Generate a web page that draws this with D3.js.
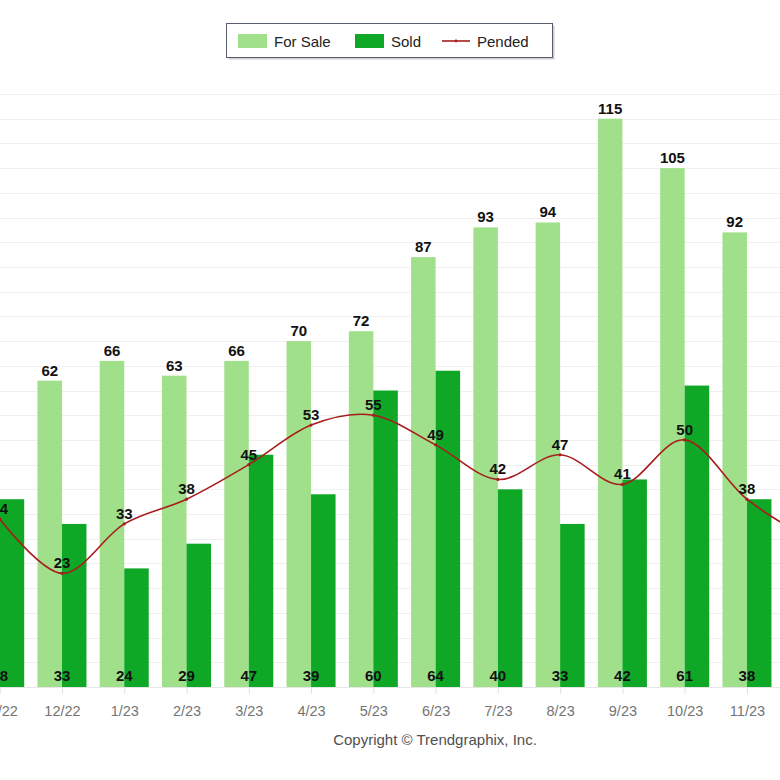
<!DOCTYPE html>
<html>
<head>
<meta charset="utf-8">
<script src="https://cdn.jsdelivr.net/npm/d3@7"></script>
<style>
  html, body { margin: 0; padding: 0; background: #fff; }
  svg { display: block; }
</style>
</head>
<body>
<svg id="chart" width="780" height="780"></svg>
<script>
// ---- data (first/last months partly off-canvas) ----
const categories = ["11/22","12/22","1/23","2/23","3/23","4/23","5/23","6/23","7/23","8/23","9/23","10/23","11/23","12/23"];
const forSale = [60, 62, 66, 63, 66, 70, 72, 87, 93, 94, 115, 105, 92, 80];
const sold    = [38, 33, 24, 29, 47, 39, 60, 64, 40, 33, 42, 61, 38, 35];
const pended  = [34, 23, 33, 38, 45, 53, 55, 49, 42, 47, 41, 50, 38, 30];
const yTicks  = d3.range(0, 121, 5);
const legendItems = ["For Sale", "Sold", "Pended"];

const colors = { forSale: "#a0e08b", sold: "#0ea826", pended: "#a81c1c" };

const W = 780;
const svg = d3.select("#chart");
const x = d3.scalePoint().domain(categories).range([-0.3, -0.3 + 62.27 * (categories.length - 1)]);
const y = d3.scaleLinear().domain([0, 120]).range([687, 94]);
const bw = 24.5;
const onCanvas = cx => cx > -6 && cx < W + 6;   // keep texts whose centre touches the canvas

// gridlines
svg.append("g").selectAll("line").data(yTicks).join("line")
  .attr("x1", 0).attr("x2", W)
  .attr("y1", d => Math.round(y(d)) + 0.5).attr("y2", d => Math.round(y(d)) + 0.5)
  .attr("stroke", d => d === 0 ? "#e6e6e6" : "#efefef").attr("stroke-width", 1);

// x axis
const xAxis = svg.append("g").attr("transform", `translate(0,${y(0)})`)
  .call(d3.axisBottom(x).tickSize(7).tickPadding(12));
xAxis.select(".domain").remove();
xAxis.selectAll(".tick line").attr("stroke", "#e2e2e2");
xAxis.selectAll(".tick text")
  .attr("fill", "#747474")
  .style("font-family", "'Liberation Sans Narrow', 'Arial Narrow', 'Liberation Sans', Arial, sans-serif")
  .style("font-size", "14.5px");
xAxis.selectAll(".tick").filter(d => !onCanvas(x(d))).select("text").remove();

// bars
const gBars = svg.append("g");
gBars.selectAll("rect.fs").data(categories).join("rect").attr("class", "fs")
  .attr("x", d => x(d) - bw).attr("width", bw)
  .attr("y", (d, i) => y(forSale[i])).attr("height", (d, i) => y(0) - y(forSale[i]))
  .attr("fill", colors.forSale);
gBars.selectAll("rect.sd").data(categories).join("rect").attr("class", "sd")
  .attr("x", d => x(d)).attr("width", bw)
  .attr("y", (d, i) => y(sold[i])).attr("height", (d, i) => y(0) - y(sold[i]))
  .attr("fill", colors.sold);

// pended line
const line = d3.line().x((d, i) => x(categories[i])).y(d => y(d)).curve(d3.curveCardinal.tension(0));
svg.append("path").datum(pended).attr("d", line)
  .attr("fill", "none").attr("stroke", colors.pended).attr("stroke-width", 1.6);
svg.append("g").selectAll("circle").data(pended).join("circle")
  .attr("cx", (d, i) => x(categories[i])).attr("cy", d => y(d)).attr("r", 1.6)
  .attr("fill", colors.pended);

// labels
const lblFont = "'Liberation Sans', Arial, sans-serif";
const idx = categories.map((c, i) => i);
const gL = svg.append("g").style("font-family", lblFont).style("font-size", "15px")
  .style("font-weight", "bold").attr("fill", "#111").attr("text-anchor", "middle");
gL.selectAll("text.fsl").data(idx.filter(i => onCanvas(x(categories[i]) - bw / 2))).join("text").attr("class", "fsl")
  .attr("x", i => x(categories[i]) - bw / 2).attr("y", i => y(forSale[i]) - 5)
  .text(i => forSale[i]);
gL.selectAll("text.pl").data(idx.filter(i => onCanvas(x(categories[i])))).join("text").attr("class", "pl")
  .attr("x", i => x(categories[i])).attr("y", i => y(pended[i]) - 5)
  .text(i => pended[i]);
gL.selectAll("text.sl").data(idx.filter(i => onCanvas(x(categories[i])))).join("text").attr("class", "sl")
  .attr("x", i => x(categories[i])).attr("y", 681)
  .text(i => sold[i]);

// legend
const lg = svg.append("g");
lg.append("rect").attr("x", 228.5).attr("y", 25.5).attr("width", 326).attr("height", 34)
  .attr("fill", "#a0a0a0").attr("opacity", 0.5);
lg.append("rect").attr("x", 226.5).attr("y", 23.5).attr("width", 326).attr("height", 34)
  .attr("fill", "#fff").attr("stroke", "#555e6a").attr("stroke-width", 1);
const lgFont = { family: "'Liberation Sans', Arial, sans-serif", size: "15px" };
lg.append("rect").attr("x", 238).attr("y", 34).attr("width", 29).attr("height", 14).attr("fill", colors.forSale);
lg.append("rect").attr("x", 355).attr("y", 34).attr("width", 29).attr("height", 14).attr("fill", colors.sold);
lg.append("line").attr("x1", 442).attr("x2", 470).attr("y1", 41).attr("y2", 41)
  .attr("stroke", colors.pended).attr("stroke-width", 1.6);
lg.append("circle").attr("cx", 456).attr("cy", 41).attr("r", 1.4).attr("fill", colors.pended);
const lgX = [274, 391, 477];
lg.selectAll("text").data(legendItems).join("text")
  .attr("x", (d, i) => lgX[i]).attr("y", 46.5)
  .style("font-family", lgFont.family).style("font-size", lgFont.size)
  .attr("fill", "#222").text(d => d);

// copyright
svg.append("text").attr("x", 435).attr("y", 745).attr("text-anchor", "middle")
  .style("font-family", "'Liberation Sans', Arial, sans-serif").style("font-size", "15px")
  .attr("fill", "#505050").text("Copyright © Trendgraphix, Inc.");
</script>
</body>
</html>
